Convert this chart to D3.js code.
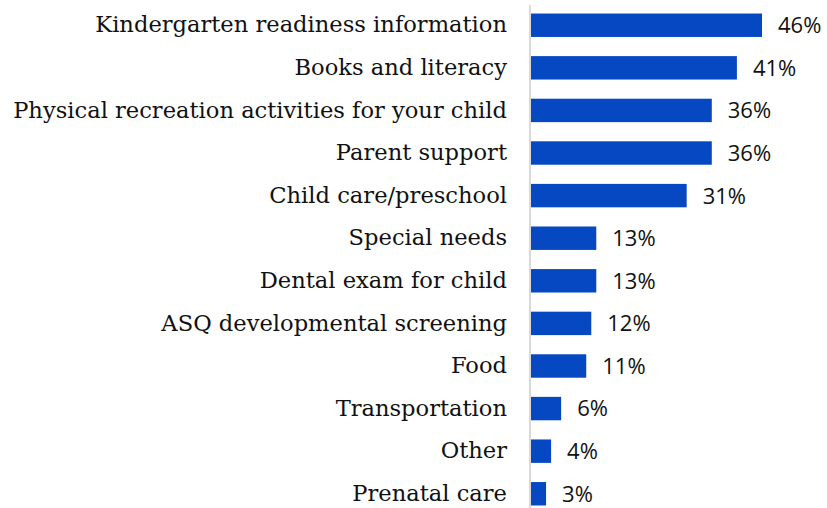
<!DOCTYPE html>
<html>
<head>
<meta charset="utf-8">
<script src="https://cdn.jsdelivr.net/npm/d3@7"></script>
<style>
  body { margin: 0; background: #fff; }
</style>
</head>
<body>
<div id="chart-area"></div>
<script>
const categories = [
    "Kindergarten readiness information",
    "Books and literacy",
    "Physical recreation activities for your child",
    "Parent support",
    "Child care/preschool",
    "Special needs",
    "Dental exam for child",
    "ASQ developmental screening",
    "Food",
    "Transportation",
    "Other",
    "Prenatal care"
];
const values = [46, 41, 36, 36, 31, 13, 13, 12, 11, 6, 4, 3];

const renderChart = () => {
    const w = 827;
    const h = 508;
    const left = 531;

    const xScale = d3.scaleLinear()
        .domain([0, 46])
        .range([left, left + 231]);

    const yScale = d3.scaleBand()
        .domain(categories)
        .range([5, 514])
        .paddingInner(0.45)
        .paddingOuter(0.2);

    const svg = d3.select("#chart-area")
        .append("svg")
        .attr("width", w)
        .attr("height", h);

    svg.selectAll("rect.bar")
        .data(values)
        .enter()
        .append("rect")
        .attr("class", "bar")
        .attr("x", xScale(0))
        .attr("y", (d, i) => yScale(categories[i]))
        .attr("width", d => xScale(d) - xScale(0))
        .attr("height", yScale.bandwidth())
        .style("fill", "#0648c2");

    // value labels
    svg.selectAll("text.val")
        .data(values)
        .enter()
        .append("text")
        .attr("class", "val")
        .attr("x", d => xScale(d) + 16)
        .attr("y", (d, i) => yScale(categories[i]) + yScale.bandwidth() / 2)
        .attr("dy", "0.36em")
        .style("font-family", "'Open Sans', sans-serif")
        .style("font-size", "22px")
        .style("fill", "#111")
        .text(d => d + "%");

    const yAxis = d3.axisLeft(yScale).tickSize(0).tickPadding(23);

    const axis = svg.append("g")
        .attr("transform", "translate(" + (left - 1) + ",0)")
        .call(yAxis);

    axis.select(".domain")
        .attr("d", "M0,5V508")
        .style("stroke", "#d9d9d9")
        .style("stroke-width", 2);

    axis.selectAll("text")
        .style("font-family", "'DejaVu Serif', serif")
        .style("font-size", "22.6px")
        .style("fill", "#111");
};

renderChart();
</script>
</body>
</html>
